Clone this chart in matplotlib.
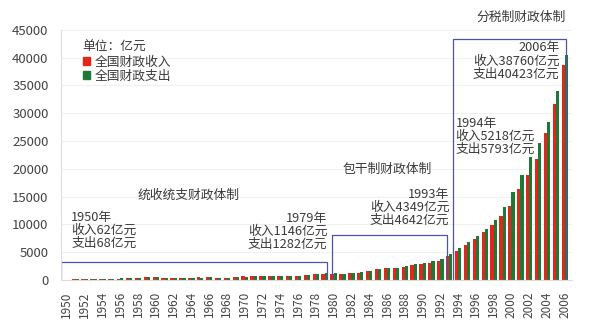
import matplotlib.pyplot as plt
from matplotlib.patches import Patch
import numpy as np

plt.rcParams['font.family'] = ['Noto Sans CJK SC', 'DejaVu Sans']

# 全国财政收入/支出 (亿元), 1950-2006
years = list(range(1950, 2007))
revenue = [62, 125, 174, 213, 245, 249, 280, 303, 380, 487,
           572, 356, 314, 342, 400, 473, 559, 419, 361, 527,
           663, 745, 767, 810, 783, 816, 777, 874, 1132, 1146,
           1160, 1176, 1212, 1367, 1643, 2005, 2122, 2199, 2357, 2665,
           2937, 3149, 3483, 4349, 5218, 6242, 7408, 8651, 9876, 11444,
           13395, 16386, 18904, 21715, 26396, 31649, 38760]
expense = [68, 122, 172, 219, 244, 263, 299, 296, 400, 543,
           644, 367, 305, 340, 399, 466, 542, 442, 360, 526,
           649, 732, 766, 809, 790, 821, 806, 844, 1122, 1282,
           1229, 1138, 1230, 1410, 1701, 2004, 2205, 2262, 2491, 2824,
           3084, 3387, 3742, 4642, 5793, 6824, 7938, 9234, 10798, 13188,
           15887, 18903, 22053, 24650, 28487, 33930, 40423]

# 财政体制阶段 (起止位置, 框高)
eras = [(-0.65, 29.3, 3300), (29.8, 42.8, 8100), (43.4, 56.1, 43300)]

red = '#e2261a'
green = '#1d7a36'
box_c = '#4b55a6'
txt_c = '#3a3a3a'

fig = plt.figure(figsize=(5.89, 3.28), dpi=100)
ax = fig.add_axes([0.1036, 0.146, 0.8674, 0.763])

x = np.arange(len(years))
w = 0.36
ax.bar(x - w / 2, revenue, w, color=red, label='全国财政收入')
ax.bar(x + w / 2, expense, w, color=green, label='全国财政支出')

for x0, x1, top in eras:
    ax.plot([x0, x0, x1, x1], [0, top, top, 0], color=box_c, lw=0.9)

ax.set_xlim(-0.65, 56.8)
ax.set_ylim(0, 45000)
ax.set_yticks(range(0, 45001, 5000))
ax.set_xticks(x[::2])
ax.set_xticklabels([str(y) for y in years[::2]], rotation=90, fontsize=8.5, color='#444444')
ax.tick_params(axis='y', length=0, pad=9, labelsize=9.5, labelcolor='#444444')
ax.tick_params(axis='x', length=0, pad=8)
ax.grid(axis='y', color='#f0f0f0', lw=0.8)
ax.set_axisbelow(True)
for s in ['top', 'right']:
    ax.spines[s].set_visible(False)
ax.spines['left'].set_color('#dddddd')
ax.spines['bottom'].set_color('#dddddd')

fs = 9.2
ls = 1.0
ax.text(13.7, 15300, '统收统支财政体制', fontsize=fs, color=txt_c, ha='center', va='center')
ax.text(0.5, 9000, '1950年\n收入62亿元\n支出68亿元', fontsize=fs, color=txt_c,
        ha='left', va='center', linespacing=ls)
ax.text(29.3, 8700, '1979年\n收入1146亿元\n支出1282亿元', fontsize=fs, color=txt_c,
        ha='right', va='center', linespacing=ls, multialignment='right')
ax.text(36.0, 20000, '包干制财政体制', fontsize=fs, color=txt_c, ha='center', va='center')
ax.text(43.0, 13100, '1993年\n收入4349亿元\n支出4642亿元', fontsize=fs, color=txt_c,
        ha='right', va='center', linespacing=ls, multialignment='right')
ax.text(43.7, 25900, '1994年\n收入5218亿元\n支出5793亿元', fontsize=fs, color=txt_c,
        ha='left', va='center', linespacing=ls)
ax.text(55.4, 39400, '2006年\n收入38760亿元\n支出40423亿元', fontsize=fs, color=txt_c,
        ha='right', va='center', linespacing=ls, multialignment='right')
ax.text(56.1, 47300, '分税制财政体制', fontsize=fs, color=txt_c, ha='right', va='center',
        clip_on=False)

handles = [Patch(color=red, label='全国财政收入'), Patch(color=green, label='全国财政支出')]
leg = ax.legend(handles=handles, title='单位：亿元', loc='upper left',
                bbox_to_anchor=(0.025, 0.99), frameon=False, fontsize=fs,
                title_fontsize=fs, handlelength=0.6, handleheight=0.6,
                handletextpad=0.3, labelspacing=0.1, alignment='left',
                borderpad=0.2)
for t in leg.get_texts():
    t.set_color(txt_c)
leg.get_title().set_color(txt_c)

fig.savefig('out.png', dpi=100)
